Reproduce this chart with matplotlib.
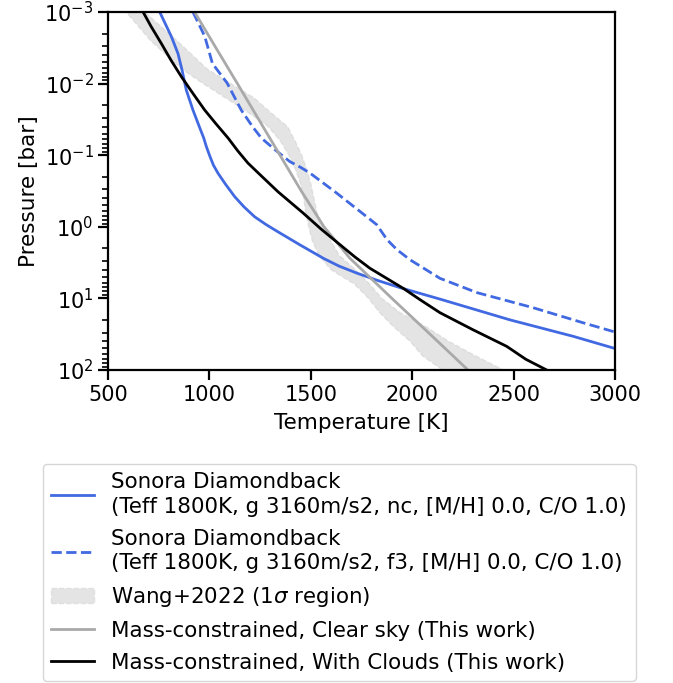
import matplotlib
matplotlib.use("Agg")
import matplotlib.pyplot as plt
import numpy as np

plt.rcParams["font.size"] = 15

# Sonora Diamondback, no clouds (log10 P [bar], T [K])
nc_logp = [-3.0, -2.66, -2.42, -2.19, -1.91, -1.63, -1.40, -1.24, -1.12, -0.98,
           -0.86, -0.75, -0.60, -0.42, -0.28, -0.14, -0.03, 0.07, 0.25, 0.44,
           0.55, 0.65, 0.75, 0.85, 1.01, 1.30, 1.53, 1.70]
nc_temp = [755, 812, 845, 865, 886, 919, 950, 972, 985, 1003,
           1020, 1042, 1078, 1125, 1170, 1223, 1280, 1338, 1445, 1562,
           1640, 1730, 1830, 1940, 2137, 2482, 2794, 3000]

# Sonora Diamondback, f3 clouds
f3_logp = [-3.0, -2.66, -2.28, -2.01, -1.63, -1.39, -1.24, -1.08, -0.91, -0.83,
           -0.75, -0.47, -0.14, -0.03, 0.18, 0.32, 0.46, 0.72, 0.92, 1.13,
           1.34, 1.47]
f3_temp = [919, 977, 1015, 1087, 1157, 1215, 1256, 1322, 1397, 1450,
           1496, 1628, 1776, 1825, 1876, 1925, 1989, 2137, 2320, 2596,
           2842, 3000]

# Wang+2022 1-sigma region
wang_logp = [-3.2, -3.0, -2.6, -2.2, -2.0, -1.8, -1.6, -1.4, -1.2, -1.0, -0.8, -0.6,
             -0.4, -0.2, 0.0, 0.2, 0.4, 0.6, 0.8, 1.0, 1.2, 1.4, 1.6, 1.8, 2.0, 2.1]
wang_lo = [540, 590, 710, 865, 970, 1080, 1190, 1290, 1350, 1392, 1425, 1450,
           1465, 1475, 1490, 1508, 1540, 1600, 1715, 1785, 1840, 1910, 1990, 2050, 2150, 2200]
wang_hi = [620, 680, 840, 990, 1105, 1220, 1300, 1385, 1422, 1455, 1480, 1500,
           1515, 1530, 1560, 1600, 1640, 1720, 1790, 1850, 1940, 2070, 2180, 2310, 2450, 2520]

# This work: clear sky
clear_logp = [-3.0, -2.5, -2.0, -1.5, -1.0, -0.5, 0.0, 0.44, 1.0, 1.5, 2.0]
clear_temp = [927, 1032, 1138, 1243, 1348, 1453, 1565, 1693, 1900, 2088, 2275]

# This work: with clouds
cloud_logp = [-3.0, -2.8, -2.56, -2.33, -2.10, -1.87, -1.63, -1.44, -1.24, -1.06,
              -0.89, -0.70, -0.49, -0.19, 0.03, 0.25, 0.42, 0.58, 0.86, 1.03,
              1.20, 1.44, 1.67, 1.85, 2.0]
cloud_temp = [673, 712, 763, 810, 861, 917, 977, 1032, 1092, 1140,
              1190, 1260, 1338, 1463, 1550, 1644, 1717, 1792, 1956, 2045,
              2137, 2301, 2466, 2560, 2663]

fig = plt.figure(figsize=(6.73, 6.83), dpi=100)
ax = fig.add_axes([0.1605, 0.4583, 0.7533, 0.5241])

p = lambda lp: 10.0 ** np.asarray(lp)

ax.plot(nc_temp, p(nc_logp), color="royalblue", lw=2,
        label="Sonora Diamondback\n(Teff 1800K, g 3160m/s2, nc, [M/H] 0.0, C/O 1.0)")
ax.plot(f3_temp, p(f3_logp), color="royalblue", lw=2, ls="--",
        label="Sonora Diamondback\n(Teff 1800K, g 3160m/s2, f3, [M/H] 0.0, C/O 1.0)")
ax.fill_betweenx(p(wang_logp), wang_lo, wang_hi, color="lightgray", alpha=0.6,
                 ls="--", label=r"Wang+2022 (1$\sigma$ region)")
ax.plot(clear_temp, p(clear_logp), color="darkgray", lw=2,
        label="Mass-constrained, Clear sky (This work)")
ax.plot(cloud_temp, p(cloud_logp), color="black", lw=2,
        label="Mass-constrained, With Clouds (This work)")

ax.set_yscale("log")
ax.set_ylim(1e2, 1e-3)
ax.set_xlim(500, 3000)
ax.set_xticks([500, 1000, 1500, 2000, 2500, 3000])
ax.set_xlabel("Temperature [K]", fontsize=15.5, labelpad=6)
ax.set_ylabel("Pressure [bar]", fontsize=15.5)

for s in ax.spines.values():
    s.set_linewidth(1.6)
ax.tick_params(which="major", length=7, width=1.6)
ax.tick_params(which="minor", length=4.5, width=1.2)

leg = fig.legend(loc="upper center", bbox_to_anchor=(0.504, 0.337), fontsize=15.4,
                 labelspacing=0.55)
for t in leg.get_texts():
    t.set_linespacing(1.3)

fig.savefig("out.png", dpi=100)
